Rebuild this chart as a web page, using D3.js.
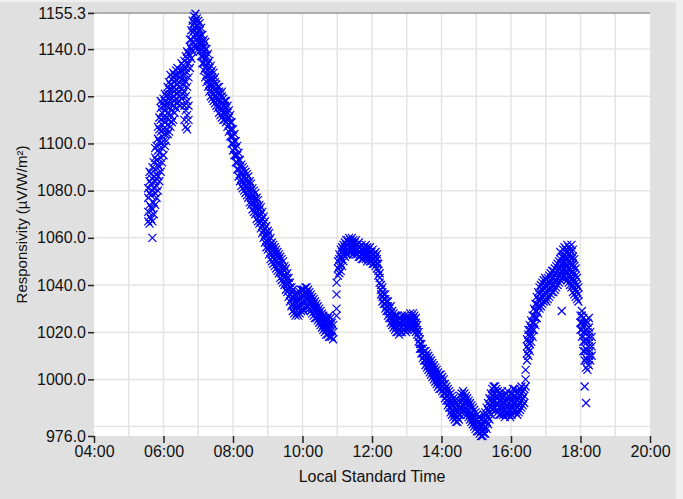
<!DOCTYPE html>
<html>
<head>
<meta charset="utf-8">
<script src="https://cdn.jsdelivr.net/npm/d3@7"></script>
<style>
  html, body { margin: 0; padding: 0; background: #f0f0f0; }
  svg { display: block; font-family: "Liberation Sans", Arial, sans-serif; }
  .axis text { font-size: 16px; fill: #111; }
  .axis path { display: none; }
  .axis line { stroke: #222; }
</style>
</head>
<body>
<div id="chart"></div>
<script>
// rows are [hour, value, value, ...] (several readings per time step)
var morningRise = [
  [5.56, 1067, 1071, 1077, 1081],
  [5.60, 1066, 1069, 1074, 1079, 1084, 1088],
  [5.64, 1068, 1073, 1078, 1083, 1087],
  [5.68, 1060, 1067, 1072, 1080, 1085, 1090],
  [5.72, 1070, 1075, 1081, 1086, 1092],
  [5.76, 1074, 1079, 1084, 1089, 1094, 1098],
  [5.80, 1077, 1082, 1087, 1093, 1099],
  [5.84, 1080, 1086, 1091, 1097, 1102, 1107],
  [5.88, 1084, 1090, 1096, 1101, 1106, 1111],
  [5.92, 1088, 1094, 1100, 1105, 1110, 1115, 1118],
  [5.96, 1092, 1098, 1103, 1108, 1113, 1117],
  [6.00, 1095, 1101, 1106, 1111, 1116, 1119],
  [6.04, 1099, 1104, 1109, 1114, 1118, 1121],
  [6.08, 1101, 1106, 1111, 1116, 1120],
  [6.12, 1104, 1108, 1113, 1117, 1121, 1124],
  [6.16, 1105, 1110, 1115, 1119, 1123, 1126],
  [6.20, 1107, 1112, 1117, 1121, 1125, 1129],
  [6.24, 1109, 1114, 1119, 1123, 1127],
  [6.28, 1110, 1116, 1120, 1124, 1128, 1130],
  [6.32, 1113, 1118, 1122, 1126, 1129],
  [6.36, 1115, 1119, 1123, 1127, 1131],
  [6.40, 1117, 1121, 1125, 1129, 1132],
  [6.44, 1118, 1122, 1126, 1130],
  [6.48, 1116, 1120, 1124, 1128, 1131],
  [6.52, 1119, 1123, 1127, 1131, 1134],
  [6.56, 1121, 1125, 1129, 1133],
  [6.60, 1110, 1116, 1122, 1127, 1131, 1135],
  [6.64, 1107, 1114, 1120, 1126, 1132, 1137],
  [6.68, 1106, 1112, 1118, 1124, 1130, 1136, 1139],
  [6.72, 1110, 1116, 1128, 1134, 1138],
  [6.76, 1132, 1137, 1141, 1144],
  [6.80, 1136, 1140, 1144, 1148],
  [6.84, 1139, 1143, 1147, 1150, 1152],
  [6.88, 1141, 1145, 1148, 1151, 1154],
  [6.92, 1142, 1146, 1149, 1152, 1155],
  [6.96, 1141, 1144, 1147, 1150, 1153],
  [7.00, 1140, 1143, 1146, 1149, 1152],
  [7.04, 1139, 1142, 1145, 1148, 1151],
  [7.08, 1137, 1140, 1143, 1146, 1149],
  [7.12, 1134, 1137, 1140, 1143, 1146],
  [7.16, 1131, 1134, 1137, 1141, 1144]
];

var morningFall = [
  [7.20, 1128, 1132, 1136, 1140, 1143],
  [7.24, 1126, 1129, 1133, 1137, 1140],
  [7.28, 1124, 1127, 1131, 1134, 1138],
  [7.32, 1122, 1125, 1129, 1132, 1135],
  [7.36, 1120, 1124, 1127, 1130, 1133],
  [7.40, 1119, 1122, 1125, 1128, 1131],
  [7.44, 1118, 1121, 1124, 1127, 1130],
  [7.48, 1117, 1120, 1123, 1126, 1128],
  [7.52, 1116, 1119, 1122, 1125],
  [7.56, 1115, 1118, 1121, 1124],
  [7.60, 1113, 1116, 1119, 1122, 1124],
  [7.64, 1112, 1115, 1118, 1121],
  [7.68, 1111, 1114, 1117, 1120, 1122],
  [7.72, 1110, 1113, 1116, 1119],
  [7.76, 1110, 1113, 1116, 1118],
  [7.80, 1109, 1112, 1115, 1118],
  [7.84, 1107, 1110, 1113, 1116],
  [7.88, 1105, 1108, 1111, 1114],
  [7.92, 1103, 1106, 1109, 1112],
  [7.96, 1100, 1103, 1106, 1109],
  [8.00, 1097, 1100, 1103, 1106],
  [8.04, 1095, 1098, 1101, 1104],
  [8.08, 1092, 1095, 1098, 1101],
  [8.12, 1089, 1092, 1095, 1099],
  [8.16, 1086, 1089, 1093, 1096],
  [8.20, 1084, 1087, 1090, 1093],
  [8.24, 1082, 1085, 1088, 1091],
  [8.28, 1081, 1084, 1087, 1090],
  [8.32, 1080, 1083, 1086, 1089],
  [8.36, 1079, 1082, 1085, 1088],
  [8.40, 1078, 1081, 1084, 1087],
  [8.44, 1077, 1080, 1083, 1086],
  [8.48, 1075, 1078, 1081, 1084],
  [8.52, 1074, 1077, 1080, 1083],
  [8.56, 1072, 1075, 1078, 1081],
  [8.60, 1071, 1074, 1077, 1080],
  [8.64, 1070, 1073, 1076, 1079],
  [8.68, 1068, 1071, 1074, 1077],
  [8.72, 1067, 1070, 1073, 1076],
  [8.76, 1066, 1069, 1072, 1074],
  [8.80, 1064, 1067, 1070, 1073],
  [8.84, 1062, 1065, 1068, 1071],
  [8.88, 1060, 1063, 1066, 1069],
  [8.92, 1058, 1061, 1064, 1067],
  [8.96, 1056, 1059, 1062, 1065],
  [9.00, 1055, 1058, 1061, 1063],
  [9.04, 1053, 1056, 1059, 1062],
  [9.08, 1051, 1054, 1057, 1060],
  [9.12, 1050, 1053, 1056, 1058],
  [9.16, 1049, 1052, 1055, 1057],
  [9.20, 1048, 1051, 1054, 1056],
  [9.24, 1047, 1050, 1053, 1055],
  [9.28, 1046, 1049, 1052, 1054],
  [9.32, 1045, 1048, 1051, 1053],
  [9.36, 1043, 1046, 1049, 1052],
  [9.40, 1042, 1045, 1048, 1051],
  [9.44, 1041, 1044, 1047, 1050],
  [9.48, 1040, 1043, 1046, 1048],
  [9.52, 1038, 1041, 1044, 1047],
  [9.56, 1037, 1040, 1043, 1045],
  [9.60, 1035, 1038, 1041, 1043],
  [9.64, 1033, 1036, 1039, 1041],
  [9.68, 1031, 1034, 1037, 1039],
  [9.72, 1029, 1032, 1035, 1038],
  [9.76, 1028, 1031, 1034, 1036],
  [9.80, 1027, 1030, 1033, 1036],
  [9.84, 1028, 1031, 1034, 1037],
  [9.88, 1027, 1030, 1033, 1036],
  [9.92, 1028, 1031, 1034, 1037],
  [9.96, 1029, 1032, 1035, 1038],
  [10.00, 1030, 1033, 1036, 1038],
  [10.04, 1029, 1032, 1035, 1038],
  [10.08, 1030, 1033, 1036, 1039],
  [10.12, 1031, 1034, 1037, 1039],
  [10.16, 1031, 1034, 1036, 1038],
  [10.20, 1030, 1033, 1035, 1037],
  [10.24, 1029, 1032, 1034, 1036],
  [10.28, 1028, 1031, 1033, 1035],
  [10.32, 1027, 1030, 1032, 1034],
  [10.36, 1026, 1029, 1031, 1033],
  [10.40, 1026, 1028, 1030, 1032],
  [10.44, 1025, 1027, 1029, 1031],
  [10.48, 1024, 1026, 1028, 1030],
  [10.52, 1023, 1025, 1027, 1029],
  [10.56, 1022, 1024, 1026, 1028],
  [10.60, 1021, 1023, 1025, 1027],
  [10.64, 1020, 1022, 1024, 1026],
  [10.68, 1019, 1021, 1023, 1025],
  [10.72, 1019, 1021, 1023, 1026],
  [10.76, 1018, 1021, 1024, 1027],
  [10.80, 1018, 1020, 1023, 1026],
  [10.84, 1018, 1021, 1024],
  [10.88, 1017, 1020, 1023]
];

var noonHump = [
  [10.98, 1027, 1030, 1036, 1041],
  [11.02, 1044, 1047, 1050],
  [11.06, 1045, 1048, 1051, 1053],
  [11.10, 1046, 1049, 1052, 1055],
  [11.14, 1048, 1051, 1054, 1056],
  [11.18, 1050, 1053, 1055, 1057],
  [11.22, 1052, 1054, 1056, 1058],
  [11.26, 1053, 1055, 1057, 1059],
  [11.30, 1053, 1055, 1057, 1059],
  [11.34, 1054, 1056, 1058, 1060],
  [11.38, 1054, 1056, 1058, 1059],
  [11.42, 1054, 1056, 1058, 1060],
  [11.46, 1053, 1055, 1057, 1059],
  [11.50, 1054, 1056, 1058],
  [11.54, 1053, 1055, 1057, 1059],
  [11.58, 1053, 1055, 1057],
  [11.62, 1052, 1054, 1056, 1058],
  [11.66, 1052, 1054, 1056],
  [11.70, 1051, 1053, 1055, 1057],
  [11.74, 1051, 1053, 1055],
  [11.78, 1052, 1054, 1056],
  [11.82, 1051, 1053, 1055, 1057],
  [11.86, 1050, 1052, 1054, 1056],
  [11.90, 1051, 1053, 1055],
  [11.94, 1050, 1052, 1054, 1056],
  [11.98, 1050, 1052, 1054],
  [12.02, 1049, 1051, 1053, 1055],
  [12.06, 1049, 1051, 1053],
  [12.10, 1048, 1050, 1052, 1054],
  [12.14, 1047, 1049, 1051, 1053],
  [12.18, 1044, 1046, 1049],
  [12.22, 1041, 1043, 1045],
  [12.26, 1036, 1038, 1040],
  [12.30, 1033, 1035, 1037, 1039],
  [12.34, 1032, 1034, 1036],
  [12.38, 1030, 1032, 1034, 1036],
  [12.42, 1029, 1031, 1033],
  [12.46, 1027, 1029, 1031, 1033],
  [12.50, 1026, 1028, 1030],
  [12.54, 1024, 1026, 1028, 1031],
  [12.58, 1023, 1025, 1027, 1029],
  [12.62, 1022, 1024, 1026, 1028],
  [12.66, 1021, 1023, 1025, 1027],
  [12.70, 1020, 1022, 1024, 1027],
  [12.74, 1020, 1022, 1025, 1027],
  [12.78, 1019, 1021, 1024, 1026],
  [12.82, 1020, 1022, 1024, 1026],
  [12.86, 1020, 1022, 1025, 1027],
  [12.90, 1021, 1023, 1025],
  [12.94, 1021, 1023, 1025, 1027],
  [12.98, 1020, 1022, 1024, 1026],
  [13.02, 1021, 1023, 1025, 1027],
  [13.06, 1022, 1024, 1026],
  [13.10, 1022, 1024, 1026, 1028],
  [13.14, 1021, 1023, 1025, 1027],
  [13.18, 1022, 1024, 1026, 1028],
  [13.22, 1021, 1023, 1025, 1027],
  [13.26, 1020, 1022, 1024, 1026],
  [13.30, 1019, 1021, 1023]
];

var afternoonDip = [
  [13.34, 1016, 1018, 1020],
  [13.38, 1013, 1015, 1017],
  [13.42, 1011, 1013, 1015],
  [13.46, 1009, 1011, 1013],
  [13.50, 1008, 1010, 1012],
  [13.54, 1006, 1008, 1010, 1012],
  [13.58, 1005, 1007, 1009, 1011],
  [13.62, 1004, 1006, 1008, 1010],
  [13.66, 1003, 1005, 1007, 1009],
  [13.70, 1002, 1004, 1006, 1008],
  [13.74, 1001, 1003, 1005, 1007],
  [13.78, 1000, 1002, 1004, 1006],
  [13.82, 999, 1001, 1003, 1005],
  [13.86, 998, 1000, 1002, 1004],
  [13.90, 997, 999, 1001, 1003],
  [13.94, 996, 998, 1000, 1002],
  [13.98, 996, 998, 1000, 1002],
  [14.02, 995, 997, 999, 1001],
  [14.06, 994, 996, 998, 1000],
  [14.10, 992, 994, 996, 998],
  [14.14, 991, 993, 995, 997],
  [14.18, 989, 991, 993, 996],
  [14.22, 988, 990, 992, 995],
  [14.26, 986, 988, 991, 994],
  [14.30, 985, 987, 990, 993],
  [14.34, 984, 986, 989, 992],
  [14.38, 983, 985, 988, 991],
  [14.42, 982, 984, 987, 990],
  [14.46, 982, 984, 986, 989],
  [14.50, 983, 985, 988, 991],
  [14.54, 985, 987, 990, 993],
  [14.58, 986, 988, 991, 994],
  [14.62, 987, 989, 992, 995],
  [14.66, 987, 990, 992, 994],
  [14.70, 986, 988, 991, 993],
  [14.74, 985, 987, 990, 992],
  [14.78, 984, 986, 989, 991],
  [14.82, 983, 985, 988, 990],
  [14.86, 982, 984, 986, 989],
  [14.90, 981, 983, 985, 988],
  [14.94, 980, 982, 984, 987],
  [14.98, 979, 981, 983, 986],
  [15.02, 978, 980, 983, 985],
  [15.06, 978, 980, 982, 984],
  [15.10, 977, 979, 981, 984],
  [15.14, 976, 978, 980, 983],
  [15.18, 976, 978, 981],
  [15.22, 977, 979, 982, 985],
  [15.26, 977, 980, 983, 986],
  [15.30, 979, 982, 985, 988],
  [15.34, 981, 984, 987, 990],
  [15.38, 983, 986, 989, 992],
  [15.42, 985, 988, 991, 994],
  [15.46, 987, 990, 993, 996],
  [15.50, 988, 991, 994, 997],
  [15.54, 988, 991, 994, 997],
  [15.58, 987, 990, 993, 996],
  [15.62, 986, 989, 992, 995],
  [15.66, 985, 988, 991, 994],
  [15.70, 985, 988, 991, 993],
  [15.74, 986, 989, 992, 995],
  [15.78, 985, 988, 990, 993],
  [15.82, 984, 987, 990, 993],
  [15.86, 985, 988, 991, 994],
  [15.90, 986, 989, 992, 995],
  [15.94, 985, 987, 990, 993],
  [15.98, 984, 987, 989, 992],
  [16.02, 985, 988, 991, 994],
  [16.06, 986, 989, 992, 996],
  [16.10, 987, 990, 993, 996],
  [16.14, 986, 989, 992, 995],
  [16.18, 985, 988, 991, 994],
  [16.22, 986, 989, 992, 995],
  [16.26, 987, 990, 993, 996],
  [16.30, 988, 991, 994, 997],
  [16.34, 989, 992, 995],
  [16.38, 990, 993, 996]
];

var eveningHump = [
  [16.42, 997, 1000, 1004],
  [16.46, 1008, 1011, 1014, 1017],
  [16.50, 1010, 1013, 1016, 1019, 1021],
  [16.54, 1012, 1015, 1018, 1021, 1023],
  [16.58, 1016, 1019, 1022, 1025],
  [16.62, 1018, 1021, 1024, 1027],
  [16.66, 1021, 1024, 1027, 1030],
  [16.70, 1023, 1026, 1029, 1032],
  [16.74, 1026, 1029, 1032, 1035],
  [16.78, 1028, 1031, 1034, 1037],
  [16.82, 1030, 1033, 1036, 1039],
  [16.86, 1031, 1034, 1037, 1040],
  [16.90, 1032, 1035, 1038, 1041],
  [16.94, 1033, 1036, 1039, 1042],
  [16.98, 1034, 1037, 1040, 1043],
  [17.02, 1033, 1036, 1039, 1042],
  [17.06, 1034, 1037, 1040, 1043],
  [17.10, 1035, 1038, 1041, 1044],
  [17.14, 1036, 1039, 1042, 1045],
  [17.18, 1037, 1040, 1043, 1046],
  [17.22, 1037, 1040, 1043, 1046],
  [17.26, 1038, 1041, 1044, 1047],
  [17.30, 1039, 1042, 1045, 1048],
  [17.34, 1040, 1043, 1046, 1049],
  [17.38, 1041, 1044, 1047, 1050],
  [17.42, 1042, 1045, 1048, 1051, 1054],
  [17.46, 1029, 1043, 1046, 1049, 1052],
  [17.50, 1043, 1046, 1049, 1052, 1055],
  [17.54, 1044, 1047, 1050, 1053, 1056],
  [17.58, 1043, 1046, 1049, 1052, 1055],
  [17.62, 1042, 1045, 1048, 1051, 1054, 1057],
  [17.66, 1041, 1044, 1047, 1050, 1053, 1056],
  [17.70, 1040, 1043, 1046, 1049, 1052, 1055],
  [17.74, 1039, 1042, 1045, 1048, 1051, 1054, 1057],
  [17.78, 1037, 1040, 1043, 1046, 1049, 1052, 1055],
  [17.82, 1036, 1039, 1042, 1045, 1048, 1051],
  [17.86, 1035, 1038, 1041, 1044, 1047],
  [17.90, 1034, 1037, 1040, 1043],
  [17.94, 1033, 1036, 1039],
  [18.00, 1021, 1024, 1027],
  [18.04, 1018, 1021, 1024, 1027, 1029],
  [18.08, 1012, 1016, 1020, 1023, 1026],
  [18.12, 997, 1008, 1012, 1016, 1020, 1024],
  [18.16, 990, 1005, 1009, 1013, 1017, 1021, 1025],
  [18.20, 1004, 1008, 1012, 1016, 1020, 1024],
  [18.24, 1006, 1010, 1014, 1018, 1022, 1026],
  [18.28, 1008, 1012, 1016, 1020],
  [18.32, 1010, 1014, 1018]
];

var xTickHours = [4, 6, 8, 10, 12, 14, 16, 18, 20];
var xGridHours = [5, 6, 7, 8, 9, 10, 11, 12, 13, 14, 15, 16, 17, 18, 19];
var yTickValues = [976.0, 1000, 1020, 1040, 1060, 1080, 1100, 1120, 1140, 1155.3];
var yGridValues = [980, 1000, 1020, 1040, 1060, 1080, 1100, 1120, 1140];

var width = 683, height = 499;
var margin = {left: 94, top: 13, right: 33, bottom: 63};
var plotW = width - margin.left - margin.right;
var plotH = height - margin.top - margin.bottom;

var points = [];
[morningRise, morningFall, noonHump, afternoonDip, eveningHump].forEach(function(seg){
  seg.forEach(function(row){
    for(var i = 1; i < row.length; i++){
      points.push({t: row[0], v: row[i]});
    }
  });
});

var svg = d3.select("#chart").append("svg")
  .attr("width", width)
  .attr("height", height);

// outer panel
svg.append("rect")
  .attr("x", 0).attr("y", 2)
  .attr("width", 676).attr("height", height - 2)
  .attr("fill", "#e0e0e0");

var g = svg.append("g")
  .attr("transform", "translate(" + margin.left + "," + margin.top + ")");

var x = d3.scaleLinear().domain([4, 20]).range([0, plotW]);
var y = d3.scaleLinear().domain([976, 1155.3]).range([plotH, 0]);

g.append("rect")
  .attr("width", plotW).attr("height", plotH)
  .attr("fill", "#ffffff");

// grid
g.selectAll(".vgrid").data(xGridHours).enter().append("line")
  .attr("class", "vgrid")
  .attr("x1", function(d){ return x(d); }).attr("x2", function(d){ return x(d); })
  .attr("y1", 0).attr("y2", plotH)
  .attr("stroke", "#e4e4e4").attr("stroke-width", 1.5);
g.selectAll(".hgrid").data(yGridValues).enter().append("line")
  .attr("class", "hgrid")
  .attr("x1", 0).attr("x2", plotW)
  .attr("y1", function(d){ return y(d); }).attr("y2", function(d){ return y(d); })
  .attr("stroke", "#e4e4e4").attr("stroke-width", 1.5);

// top frame line
g.append("line")
  .attr("x1", -6).attr("x2", plotW)
  .attr("y1", 0).attr("y2", 0)
  .attr("stroke", "#9a9a9a").attr("stroke-width", 1.5);

// markers
var s = 4;
g.append("g").selectAll("path").data(points).enter().append("path")
  .attr("transform", function(d){ return "translate(" + x(d.t) + "," + y(d.v) + ")"; })
  .attr("d", "M" + (-s) + "," + (-s) + "L" + s + "," + s + "M" + (-s) + "," + s + "L" + s + "," + (-s))
  .attr("stroke", "#0000ff")
  .attr("stroke-width", 1.2)
  .attr("fill", "none");

// axes
var xAxis = d3.axisBottom(x)
  .tickValues(xTickHours)
  .tickSize(7)
  .tickPadding(3)
  .tickFormat(function(d){ return (d < 10 ? "0" : "") + d + ":00"; });
g.append("g").attr("class", "axis")
  .attr("transform", "translate(0," + plotH + ")")
  .call(xAxis);

var yAxis = d3.axisLeft(y)
  .tickValues(yTickValues)
  .tickSize(6)
  .tickPadding(2)
  .tickFormat(d3.format(".1f"));
g.append("g").attr("class", "axis").call(yAxis);

g.selectAll(".axis line").attr("stroke-width", 1.5);

// titles
svg.append("text")
  .attr("x", margin.left + plotW / 2)
  .attr("y", 482)
  .attr("text-anchor", "middle")
  .attr("font-size", 16)
  .attr("fill", "#111")
  .text("Local Standard Time");

svg.append("text")
  .attr("transform", "translate(27," + (margin.top + plotH / 2) + ") rotate(-90)")
  .attr("text-anchor", "middle")
  .attr("font-size", 15)
  .attr("fill", "#111")
  .text("Responsivity (µV/W/m²)");
</script>
</body>
</html>
